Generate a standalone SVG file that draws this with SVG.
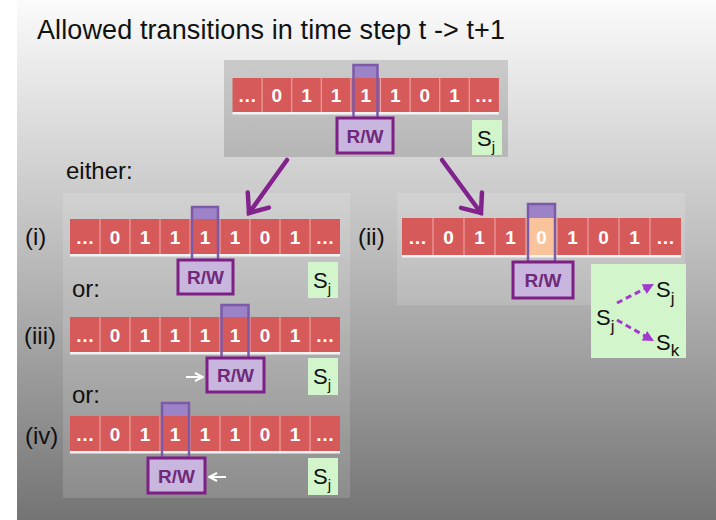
<svg xmlns="http://www.w3.org/2000/svg" width="716" height="520" viewBox="0 0 716 520">
<defs>
<linearGradient id="bg" x1="0" y1="0" x2="0" y2="1">
<stop offset="0" stop-color="#fbfbfb"/>
<stop offset="0.5" stop-color="#bababa"/>
<stop offset="1" stop-color="#747474"/>
</linearGradient>
<marker id="ah" viewBox="-20 -16 24 32" refX="0" refY="0" markerWidth="24" markerHeight="32" markerUnits="userSpaceOnUse" orient="auto">
<path d="M-16,-13 L0,0 L-16,13" fill="none" stroke="#82228c" stroke-width="4.5" stroke-linecap="round" stroke-linejoin="miter"/>
</marker>
<marker id="dh" viewBox="0 0 10 10" refX="8" refY="5" markerWidth="11" markerHeight="11" markerUnits="userSpaceOnUse" orient="auto">
<path d="M0,0 L10,5 L0,10 Z" fill="#a33ad0"/>
</marker>
<marker id="wh" viewBox="0 0 10 10" refX="9" refY="5" markerWidth="10" markerHeight="12" markerUnits="userSpaceOnUse" orient="auto">
<path d="M1,1 L9,5 L1,9" fill="none" stroke="#ffffff" stroke-width="2"/>
</marker>
</defs>
<style>
.cell{fill:#d65a5a}
.sep{stroke:#ec9e9e;stroke-width:1.2}
.base{fill:#f3f3f3}
.v{font-family:"Liberation Sans",Arial,sans-serif;font-weight:bold;font-size:19px;fill:#ffffff;text-anchor:middle}
.ht{fill:#9c82c6}
.hl{fill:none;stroke:#7c5aa8;stroke-width:2.5}
.rw{fill:#c9b6de;stroke:#7e1f86;stroke-width:3}
.rwt{font-family:"Liberation Sans",Arial,sans-serif;font-weight:bold;font-size:19px;fill:#6f2a7a;text-anchor:middle}
.st{fill:#d3f5cc}
.stt{font-family:"Liberation Sans",Arial,sans-serif;font-size:22px;fill:#111111}
.lbl{font-family:"Liberation Sans",Arial,sans-serif;font-size:24px;fill:#111111}
.arr{fill:none;stroke:#82228c;stroke-width:4.5;stroke-linecap:round}
.darr{fill:none;stroke:#a33ad0;stroke-width:3;stroke-dasharray:6 4}
.warr{fill:none;stroke:#ffffff;stroke-width:2}
</style>
<rect x="0" y="0" width="716" height="520" fill="#ffffff"/>
<rect x="17" y="0" width="699" height="520" fill="url(#bg)"/>
<text x="37" y="39" font-family="Liberation Sans, Arial, sans-serif" font-size="27" fill="#111111" textLength="468">Allowed transitions in time step t -&gt; t+1</text>

<g id="state-top">
<rect x="224" y="60" width="284" height="97" fill="#000000" fill-opacity="0.14"/>
<rect class="ht" x="353.5" y="65" width="24" height="13"/>
<rect class="cell" x="232.5" y="78" width="266.4" height="34"/>
<rect class="base" x="232.5" y="112" width="266.4" height="2.5"/>
<g class="sep">
<line x1="262.1" y1="78" x2="262.1" y2="112"/><line x1="291.7" y1="78" x2="291.7" y2="112"/><line x1="321.3" y1="78" x2="321.3" y2="112"/><line x1="350.9" y1="78" x2="350.9" y2="112"/><line x1="380.5" y1="78" x2="380.5" y2="112"/><line x1="410.1" y1="78" x2="410.1" y2="112"/><line x1="439.7" y1="78" x2="439.7" y2="112"/><line x1="469.3" y1="78" x2="469.3" y2="112"/>
</g>
<g class="v">
<text x="247.3" y="102">…</text><text x="276.9" y="102">0</text><text x="306.5" y="102">1</text><text x="336.1" y="102">1</text><text x="365.7" y="102">1</text><text x="395.3" y="102">1</text><text x="424.9" y="102">0</text><text x="454.5" y="102">1</text><text x="484.1" y="102">…</text>
</g>
<rect class="hl" x="353.5" y="65" width="24" height="53"/>
<rect class="rw" x="337" y="118" width="56" height="35"/>
<text class="rwt" x="365" y="142.5">R/W</text>
<rect class="st" x="472" y="120" width="30" height="35"/>
<text class="stt" x="477" y="146">S<tspan dy="6" font-size="15">j</tspan></text>
</g>

<g id="panel-left">
<rect x="63" y="193" width="287" height="305" fill="#ffffff" fill-opacity="0.14"/>
<text class="lbl" x="66" y="179">either:</text>
<text class="lbl" x="72" y="297">or:</text>
<text class="lbl" x="72" y="403">or:</text>
</g>

<g id="option-i">
<text class="lbl" x="25" y="245">(i)</text>
<rect class="ht" x="192" y="207" width="26" height="12"/>
<rect class="cell" x="70" y="219" width="270" height="35"/>
<rect class="base" x="70" y="254" width="270" height="2.5"/>
<g class="sep">
<line x1="100" y1="219" x2="100" y2="254"/><line x1="130" y1="219" x2="130" y2="254"/><line x1="160" y1="219" x2="160" y2="254"/><line x1="190" y1="219" x2="190" y2="254"/><line x1="220" y1="219" x2="220" y2="254"/><line x1="250" y1="219" x2="250" y2="254"/><line x1="280" y1="219" x2="280" y2="254"/><line x1="310" y1="219" x2="310" y2="254"/>
</g>
<g class="v">
<text x="85" y="243.5">…</text><text x="115" y="243.5">0</text><text x="145" y="243.5">1</text><text x="175" y="243.5">1</text><text x="205" y="243.5">1</text><text x="235" y="243.5">1</text><text x="265" y="243.5">0</text><text x="295" y="243.5">1</text><text x="325" y="243.5">…</text>
</g>
<rect class="hl" x="192" y="207" width="26" height="53"/>
<rect class="rw" x="178" y="260" width="55" height="34"/>
<text class="rwt" x="205.5" y="284">R/W</text>
<rect class="st" x="308" y="262" width="30" height="36"/>
<text class="stt" x="313" y="288">S<tspan dy="6" font-size="15">j</tspan></text>
</g>

<g id="option-iii">
<text class="lbl" x="24" y="344">(iii)</text>
<rect class="ht" x="221.5" y="305" width="27" height="12"/>
<rect class="cell" x="70" y="317" width="270" height="35"/>
<rect class="base" x="70" y="352" width="270" height="2.5"/>
<g class="sep">
<line x1="100" y1="317" x2="100" y2="352"/><line x1="130" y1="317" x2="130" y2="352"/><line x1="160" y1="317" x2="160" y2="352"/><line x1="190" y1="317" x2="190" y2="352"/><line x1="220" y1="317" x2="220" y2="352"/><line x1="250" y1="317" x2="250" y2="352"/><line x1="280" y1="317" x2="280" y2="352"/><line x1="310" y1="317" x2="310" y2="352"/>
</g>
<g class="v">
<text x="85" y="341.5">…</text><text x="115" y="341.5">0</text><text x="145" y="341.5">1</text><text x="175" y="341.5">1</text><text x="205" y="341.5">1</text><text x="235" y="341.5">1</text><text x="265" y="341.5">0</text><text x="295" y="341.5">1</text><text x="325" y="341.5">…</text>
</g>
<rect class="hl" x="221.5" y="305" width="27" height="53"/>
<rect class="rw" x="207" y="358" width="57" height="34"/>
<text class="rwt" x="235.5" y="382">R/W</text>
<rect class="st" x="308" y="358" width="30" height="37"/>
<text class="stt" x="313" y="384">S<tspan dy="6" font-size="15">j</tspan></text>
</g>

<g id="option-iv">
<text class="lbl" x="25" y="444">(iv)</text>
<rect class="ht" x="162" y="403" width="27" height="13"/>
<rect class="cell" x="70" y="416" width="270" height="35"/>
<rect class="base" x="70" y="451" width="270" height="2.5"/>
<g class="sep">
<line x1="100" y1="416" x2="100" y2="451"/><line x1="130" y1="416" x2="130" y2="451"/><line x1="160" y1="416" x2="160" y2="451"/><line x1="190" y1="416" x2="190" y2="451"/><line x1="220" y1="416" x2="220" y2="451"/><line x1="250" y1="416" x2="250" y2="451"/><line x1="280" y1="416" x2="280" y2="451"/><line x1="310" y1="416" x2="310" y2="451"/>
</g>
<g class="v">
<text x="85" y="440.5">…</text><text x="115" y="440.5">0</text><text x="145" y="440.5">1</text><text x="175" y="440.5">1</text><text x="205" y="440.5">1</text><text x="235" y="440.5">1</text><text x="265" y="440.5">0</text><text x="295" y="440.5">1</text><text x="325" y="440.5">…</text>
</g>
<rect class="hl" x="162" y="403" width="27" height="55"/>
<rect class="rw" x="148" y="458" width="57" height="35"/>
<text class="rwt" x="176.5" y="482.5">R/W</text>
<rect class="st" x="308" y="458" width="30" height="37"/>
<text class="stt" x="313" y="484">S<tspan dy="6" font-size="15">j</tspan></text>
</g>

<g id="option-ii">
<rect x="397" y="193" width="288" height="112" fill="#ffffff" fill-opacity="0.14"/>
<text class="lbl" x="358" y="245">(ii)</text>
<rect class="ht" x="528" y="204" width="27" height="14"/>
<rect class="cell" x="402" y="218" width="279" height="37"/>
<rect x="526" y="218" width="31" height="37" fill="#f9c49b"/>
<rect class="base" x="402" y="255" width="279" height="2.5"/>
<g class="sep">
<line x1="433" y1="218" x2="433" y2="255"/><line x1="464" y1="218" x2="464" y2="255"/><line x1="495" y1="218" x2="495" y2="255"/><line x1="526" y1="218" x2="526" y2="255"/><line x1="557" y1="218" x2="557" y2="255"/><line x1="588" y1="218" x2="588" y2="255"/><line x1="619" y1="218" x2="619" y2="255"/><line x1="650" y1="218" x2="650" y2="255"/>
</g>
<g class="v">
<text x="417.5" y="243.5">…</text><text x="448.5" y="243.5">0</text><text x="479.5" y="243.5">1</text><text x="510.5" y="243.5">1</text><text x="541.5" y="243.5">0</text><text x="572.5" y="243.5">1</text><text x="603.5" y="243.5">0</text><text x="634.5" y="243.5">1</text><text x="665.5" y="243.5">…</text>
</g>
<rect class="hl" x="528" y="204" width="27" height="58"/>
<rect class="rw" x="513" y="262" width="60" height="36"/>
<text class="rwt" x="543" y="287">R/W</text>
<rect class="st" x="591" y="264" width="95" height="94"/>
<text class="stt" x="596" y="325" font-size="25">S<tspan dy="7" font-size="17">j</tspan></text>
<text class="stt" x="656" y="297" font-size="25">S<tspan dy="7" font-size="17">j</tspan></text>
<text class="stt" x="656" y="350" font-size="25">S<tspan dy="6" font-size="17">k</tspan></text>
</g>

<g id="connectors">
<line class="arr" x1="287" y1="160" x2="249" y2="213" marker-end="url(#ah)"/>
<line class="arr" x1="442" y1="160" x2="481" y2="213" marker-end="url(#ah)"/>
<line class="darr" x1="617" y1="303" x2="652" y2="285" marker-end="url(#dh)"/>
<line class="darr" x1="617" y1="320" x2="652" y2="340" marker-end="url(#dh)"/>
<line class="warr" x1="186" y1="377" x2="203" y2="377" marker-end="url(#wh)"/>
<line class="warr" x1="226" y1="477" x2="209" y2="477" marker-end="url(#wh)"/>
</g>
</svg>
